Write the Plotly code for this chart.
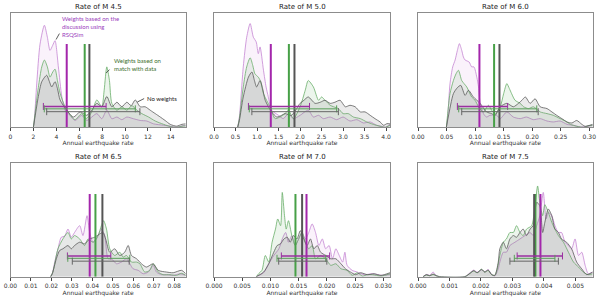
import plotly.graph_objects as go

W, H = 600, 298

TITLES = ["Rate of M 4.5", "Rate of M 5.0", "Rate of M 6.0",
          "Rate of M 6.5", "Rate of M 7.0", "Rate of M 7.5"]
X_TITLE = "Annual earthquake rate"
X_RANGES = [[0, 15.3], [0, 4.09], [0, 0.306], [0, 0.0856], [0, 0.0312], [0, 0.00555]]
X_DTICK = [2, 0.5, 0.05, 0.01, 0.005, 0.001]
X_FMT = [".0f", ".1f", ".2f", ".2f", ".3f", ".3f"]

# ---------------- M 4.5 ----------------
M45_PURPLE_X = [2.0, 2.08, 2.29, 2.58, 2.96, 3.22, 3.45, 3.69, 3.89, 4.18, 4.48, 4.77, 5.2, 5.64, 6.22, 6.66, 7.54, 7.97, 8.41, 8.85, 9.29, 9.72, 10.16, 10.74, 11.33, 11.9, 12.5, 13.37, 13.95, 14.5, 15.1, 15.3]
M45_PURPLE_Y = [0, 0.06, 0.38, 0.73, 0.895, 0.79, 0.675, 0.72, 0.76, 0.53, 0.27, 0.15, 0.105, 0.06, 0.105, 0.06, 0.12, 0.075, 0.15, 0.075, 0.09, 0.067, 0.09, 0.075, 0.06, 0.055, 0.03, 0.018, 0.01, 0, 0.015, 0.015]
M45_GREEN_X = [2.0, 2.14, 2.43, 2.73, 2.96, 3.22, 3.45, 3.69, 3.89, 4.1, 4.33, 4.77, 5.35, 5.64, 6.22, 6.6, 7.1, 7.54, 7.97, 8.18, 8.41, 8.64, 8.85, 9.29, 9.72, 10.16, 10.6, 11.04, 11.47, 12.06, 12.64, 13.37, 14.1, 14.5, 15.1, 15.3]
M45_GREEN_Y = [0, 0.12, 0.35, 0.53, 0.59, 0.53, 0.44, 0.485, 0.51, 0.41, 0.30, 0.18, 0.09, 0.067, 0.12, 0.076, 0.135, 0.24, 0.18, 0.325, 0.53, 0.41, 0.21, 0.15, 0.18, 0.15, 0.19, 0.15, 0.12, 0.09, 0.055, 0.026, 0.003, 0, 0.012, 0.012]
M45_GRAY_X = [2.0, 2.14, 2.43, 2.73, 3.16, 3.4, 3.6, 3.89, 4.1, 4.33, 4.91, 5.5, 6.08, 6.66, 7.1, 7.54, 7.97, 8.41, 8.85, 9.29, 9.72, 10.16, 10.54, 10.89, 11.33, 11.76, 12.2, 12.64, 13.08, 13.5, 13.95, 14.5, 14.97, 15.3]
M45_GRAY_Y = [0, 0.09, 0.27, 0.40, 0.456, 0.40, 0.354, 0.40, 0.34, 0.24, 0.15, 0.09, 0.135, 0.105, 0.15, 0.21, 0.18, 0.27, 0.18, 0.22, 0.18, 0.22, 0.19, 0.24, 0.18, 0.18, 0.15, 0.12, 0.09, 0.06, 0.026, 0.01, 0.026, 0.03]
M45_MEANS = [4.91, 6.48, 6.89]            # purple, green, gray
M45_RANGES = [[2.87, 8.35], [2.95, 10.9], [3.16, 11.3]]

# ---------------- M 5.0 ----------------
M50_PURPLE_X = [0.55, 0.59, 0.68, 0.76, 0.84, 0.915, 0.98, 1.03, 1.07, 1.15, 1.21, 1.26, 1.34, 1.5, 1.61, 1.73, 1.845, 2.0, 2.19, 2.31, 2.43, 2.54, 2.7, 2.85, 3.0, 3.16, 3.32, 3.47, 3.63, 3.78, 3.9, 3.98, 4.09]
M50_PURPLE_Y = [0, 0.09, 0.53, 0.79, 0.91, 0.79, 0.75, 0.646, 0.705, 0.50, 0.354, 0.27, 0.15, 0.105, 0.076, 0.12, 0.076, 0.105, 0.15, 0.09, 0.105, 0.076, 0.09, 0.067, 0.09, 0.055, 0.067, 0.038, 0.047, 0.018, 0.009, 0, 0.026]
M50_GREEN_X = [0.55, 0.59, 0.68, 0.76, 0.84, 0.9, 0.95, 1.03, 1.085, 1.15, 1.3, 1.42, 1.53, 1.65, 1.73, 1.845, 2.0, 2.12, 2.19, 2.31, 2.43, 2.5, 2.58, 2.7, 2.78, 2.89, 3.0, 3.12, 3.24, 3.4, 3.55, 3.7, 3.86, 3.98, 4.09]
M50_GREEN_Y = [0, 0.076, 0.354, 0.53, 0.61, 0.544, 0.47, 0.44, 0.40, 0.295, 0.18, 0.076, 0.09, 0.12, 0.15, 0.076, 0.18, 0.325, 0.41, 0.354, 0.237, 0.266, 0.237, 0.193, 0.18, 0.164, 0.12, 0.12, 0.09, 0.076, 0.047, 0.026, 0.009, 0, 0.018]
M50_GRAY_X = [0.55, 0.59, 0.68, 0.8, 0.88, 0.94, 0.99, 1.07, 1.13, 1.19, 1.34, 1.46, 1.57, 1.65, 1.8, 1.92, 2.0, 2.09, 2.19, 2.35, 2.47, 2.58, 2.7, 2.81, 2.93, 3.05, 3.16, 3.28, 3.4, 3.51, 3.63, 3.74, 3.86, 3.94, 4.02, 4.09]
M50_GRAY_Y = [0, 0.06, 0.266, 0.44, 0.485, 0.41, 0.354, 0.41, 0.34, 0.237, 0.135, 0.09, 0.105, 0.12, 0.105, 0.164, 0.21, 0.237, 0.266, 0.21, 0.22, 0.237, 0.21, 0.22, 0.237, 0.18, 0.193, 0.18, 0.135, 0.135, 0.105, 0.076, 0.047, 0.018, 0.032, 0.03]
M50_MEANS = [1.32, 1.74, 1.87]
M50_RANGES = [[0.80, 2.22], [0.82, 2.85], [0.88, 2.89]]

# ---------------- M 6.0 ----------------
M60_PURPLE_X = [0.0497, 0.052, 0.056, 0.0608, 0.065, 0.069, 0.0725, 0.0766, 0.0795, 0.0825, 0.0895, 0.094, 0.098, 0.103, 0.106, 0.109, 0.1146, 0.12, 0.126, 0.138, 0.144, 0.1556, 0.167, 0.179, 0.19, 0.202, 0.214, 0.226, 0.237, 0.249, 0.261, 0.2725, 0.284, 0.296, 0.306]
M60_PURPLE_Y = [0, 0.09, 0.38, 0.53, 0.59, 0.675, 0.734, 0.675, 0.617, 0.59, 0.573, 0.53, 0.53, 0.44, 0.354, 0.21, 0.12, 0.09, 0.105, 0.105, 0.076, 0.135, 0.09, 0.076, 0.09, 0.067, 0.076, 0.055, 0.047, 0.055, 0.026, 0.018, 0.003, 0.009, 0.018]
M60_GREEN_X = [0.0497, 0.052, 0.056, 0.062, 0.0667, 0.0708, 0.0766, 0.0807, 0.0854, 0.094, 0.1, 0.106, 0.1146, 0.1234, 0.129, 0.135, 0.144, 0.15, 0.1556, 0.16, 0.164, 0.17, 0.179, 0.185, 0.1936, 0.202, 0.214, 0.226, 0.237, 0.249, 0.258, 0.267, 0.278, 0.29, 0.299, 0.306]
M60_GREEN_Y = [0, 0.12, 0.295, 0.41, 0.47, 0.50, 0.41, 0.383, 0.354, 0.266, 0.237, 0.18, 0.135, 0.193, 0.15, 0.12, 0.18, 0.295, 0.383, 0.34, 0.295, 0.237, 0.21, 0.18, 0.164, 0.18, 0.135, 0.12, 0.105, 0.076, 0.055, 0.026, 0.009, 0, 0.015, 0.018]
M60_GRAY_X = [0.0497, 0.053, 0.062, 0.069, 0.0749, 0.0825, 0.0883, 0.097, 0.1088, 0.12, 0.129, 0.135, 0.144, 0.1556, 0.167, 0.176, 0.182, 0.188, 0.1965, 0.205, 0.214, 0.226, 0.2345, 0.243, 0.252, 0.261, 0.2696, 0.278, 0.287, 0.293, 0.306]
M60_GRAY_Y = [0, 0.09, 0.295, 0.348, 0.368, 0.28, 0.325, 0.266, 0.21, 0.135, 0.12, 0.105, 0.18, 0.21, 0.18, 0.21, 0.237, 0.266, 0.21, 0.25, 0.18, 0.164, 0.135, 0.105, 0.076, 0.047, 0.038, 0.06, 0.026, 0.009, 0.026]
M60_MEANS = [0.1076, 0.1333, 0.1427]
M60_RANGES = [[0.069, 0.157], [0.0713, 0.208], [0.0766, 0.2105]]

# ---------------- M 6.5 ----------------
M65_PURPLE_X = [0.0196, 0.0204, 0.0216, 0.0232, 0.0248, 0.0264, 0.0281, 0.0297, 0.0313, 0.0338, 0.0354, 0.0374, 0.0387, 0.0403, 0.042, 0.0444, 0.046, 0.0477, 0.0493, 0.0518, 0.0542, 0.0567, 0.0583, 0.0599, 0.0624, 0.0648, 0.0673, 0.0697, 0.0713, 0.0738, 0.0762, 0.0795, 0.0828, 0.0856]
M65_PURPLE_Y = [0, 0.026, 0.129, 0.246, 0.348, 0.357, 0.42, 0.348, 0.39, 0.45, 0.363, 0.538, 0.39, 0.304, 0.333, 0.42, 0.363, 0.158, 0.158, 0.114, 0.129, 0.158, 0.114, 0.07, 0.056, 0.026, 0.041, 0.10, 0.041, 0.018, 0.018, 0.012, 0.026, 0.012]
M65_GREEN_X = [0.0196, 0.0207, 0.0232, 0.0256, 0.0281, 0.0297, 0.0313, 0.0338, 0.0362, 0.0379, 0.0403, 0.0428, 0.0444, 0.0455, 0.0469, 0.0485, 0.0509, 0.0534, 0.055, 0.0567, 0.0591, 0.0616, 0.0632, 0.0656, 0.068, 0.0697, 0.0722, 0.0746, 0.0779, 0.0811, 0.0836, 0.0856]
M65_GREEN_Y = [0, 0.041, 0.246, 0.333, 0.39, 0.333, 0.363, 0.333, 0.275, 0.333, 0.304, 0.363, 0.45, 0.494, 0.42, 0.246, 0.187, 0.216, 0.173, 0.187, 0.129, 0.129, 0.114, 0.041, 0.056, 0.114, 0.041, 0.018, 0.018, 0.012, 0.03, 0.012]
M65_GRAY_X = [0.0196, 0.0204, 0.0224, 0.024, 0.0256, 0.0281, 0.0297, 0.0313, 0.0338, 0.0362, 0.0387, 0.0411, 0.0436, 0.0452, 0.0465, 0.0485, 0.0509, 0.0534, 0.0558, 0.0575, 0.0591, 0.0616, 0.064, 0.0664, 0.0697, 0.0722, 0.0762, 0.0795, 0.0836, 0.0856]
M65_GRAY_Y = [0, 0.026, 0.158, 0.231, 0.246, 0.275, 0.246, 0.275, 0.304, 0.29, 0.333, 0.348, 0.377, 0.39, 0.333, 0.216, 0.246, 0.187, 0.216, 0.275, 0.187, 0.158, 0.114, 0.085, 0.114, 0.056, 0.041, 0.035, 0.056, 0.026]
M65_MEANS = [0.0387, 0.0415, 0.0449]
M65_RANGES = [[0.0278, 0.049], [0.028, 0.0583], [0.0302, 0.058]]

# ---------------- M 7.0 ----------------
M70_PURPLE_X = [0.0075, 0.0088, 0.0097, 0.0106, 0.0115, 0.0121, 0.0127, 0.0132, 0.0138, 0.0144, 0.015, 0.0156, 0.0162, 0.0168, 0.0174, 0.018, 0.0186, 0.0192, 0.0198, 0.0204, 0.021, 0.0216, 0.0222, 0.0228, 0.0232, 0.0236, 0.0245, 0.0254, 0.0266, 0.0281, 0.0296, 0.0312]
M70_PURPLE_Y = [0, 0.035, 0.114, 0.187, 0.246, 0.333, 0.39, 0.304, 0.363, 0.275, 0.333, 0.39, 0.333, 0.39, 0.465, 0.39, 0.275, 0.333, 0.246, 0.275, 0.158, 0.246, 0.187, 0.129, 0.216, 0.10, 0.056, 0.041, 0.018, 0.026, 0.012, 0.018]
M70_GREEN_X = [0.0075, 0.0079, 0.0085, 0.0091, 0.0097, 0.0103, 0.0109, 0.0113, 0.0118, 0.0121, 0.0125, 0.0128, 0.0132, 0.0138, 0.0144, 0.015, 0.0156, 0.0162, 0.0168, 0.0174, 0.018, 0.0189, 0.0198, 0.0207, 0.0216, 0.0225, 0.0236, 0.0245, 0.0254, 0.0263, 0.0272, 0.0281, 0.0296, 0.0312]
M70_GREEN_Y = [0, 0.026, 0.056, 0.187, 0.129, 0.304, 0.42, 0.509, 0.45, 0.743, 0.538, 0.42, 0.494, 0.363, 0.275, 0.333, 0.39, 0.304, 0.246, 0.275, 0.158, 0.187, 0.158, 0.10, 0.114, 0.07, 0.056, 0.012, 0.035, 0.006, 0.018, 0.018, 0.006, 0.026]
M70_GRAY_X = [0.0075, 0.0088, 0.0097, 0.0106, 0.0112, 0.0118, 0.0124, 0.013, 0.0135, 0.0141, 0.0147, 0.0153, 0.0159, 0.0165, 0.0171, 0.0177, 0.0183, 0.0189, 0.0198, 0.0207, 0.0216, 0.0225, 0.0233, 0.0242, 0.0251, 0.026, 0.0272, 0.0284, 0.0296, 0.0312]
M70_GRAY_Y = [0, 0.041, 0.114, 0.216, 0.275, 0.29, 0.333, 0.348, 0.304, 0.363, 0.333, 0.406, 0.333, 0.275, 0.333, 0.246, 0.275, 0.216, 0.187, 0.158, 0.158, 0.114, 0.07, 0.041, 0.018, 0.035, 0.018, 0.026, 0.012, 0.035]
M70_MEANS = [0.0164, 0.01444, 0.01562]
M70_RANGES = [[0.01194, 0.0205], [0.01117, 0.0198], [0.01147, 0.0200]]

# ---------------- M 7.5 ----------------
M75_PURPLE_X = [0.00016, 0.00027, 0.00037, 0.00048, 0.00058, 0.00069, 0.00149, 0.00165, 0.00177, 0.00188, 0.00202, 0.00212, 0.00223, 0.00234, 0.00244, 0.00255, 0.0026, 0.00271, 0.00281, 0.00292, 0.00308, 0.00324, 0.0034, 0.00356, 0.00366, 0.00377, 0.00387, 0.00398, 0.00407, 0.00414, 0.00425, 0.00435, 0.00446, 0.00456, 0.00467, 0.00478, 0.00488, 0.00499, 0.0051, 0.0052, 0.00531, 0.00541, 0.00555]
M75_PURPLE_Y = [0, 0.02, 0.012, 0.041, 0.009, 0, 0, 0.035, 0.058, 0.04, 0.06, 0.045, 0.062, 0.02, 0.006, 0.07, 0.129, 0.216, 0.216, 0.275, 0.304, 0.333, 0.363, 0.39, 0.363, 0.45, 0.538, 0.743, 0.509, 0.567, 0.538, 0.45, 0.39, 0.39, 0.304, 0.275, 0.246, 0.333, 0.187, 0.216, 0.10, 0.026, 0.041]
M75_GREEN_X = [0.00016, 0.00027, 0.00037, 0.00048, 0.00058, 0.00069, 0.00149, 0.00165, 0.00177, 0.00188, 0.00202, 0.00212, 0.00223, 0.00234, 0.00244, 0.00252, 0.0026, 0.00271, 0.00281, 0.00292, 0.00303, 0.00313, 0.00324, 0.00334, 0.00345, 0.00361, 0.00372, 0.0038, 0.00387, 0.00396, 0.00403, 0.00414, 0.00425, 0.00435, 0.00446, 0.00462, 0.00478, 0.00494, 0.0051, 0.00525, 0.00541, 0.00555]
M75_GREEN_Y = [0, 0.015, 0.008, 0.02, 0.008, 0, 0, 0.03, 0.05, 0.035, 0.066, 0.04, 0.055, 0.018, 0.012, 0.07, 0.187, 0.304, 0.333, 0.39, 0.39, 0.45, 0.39, 0.363, 0.42, 0.45, 0.626, 0.80, 0.655, 0.538, 0.635, 0.567, 0.48, 0.42, 0.363, 0.304, 0.216, 0.129, 0.085, 0.041, 0.018, 0.026]
M75_GRAY_X = [0.00016, 0.00027, 0.00037, 0.00048, 0.00058, 0.00069, 0.00149, 0.00165, 0.00177, 0.00188, 0.00202, 0.00212, 0.00223, 0.00234, 0.00244, 0.00255, 0.0026, 0.00271, 0.00281, 0.00292, 0.00303, 0.00313, 0.00324, 0.00334, 0.00345, 0.00356, 0.00366, 0.00377, 0.00387, 0.00396, 0.00403, 0.00414, 0.00425, 0.00435, 0.00446, 0.00456, 0.00472, 0.00488, 0.00504, 0.0052, 0.00536, 0.00555]
M75_GRAY_Y = [0, 0.018, 0.009, 0.023, 0.009, 0, 0, 0.029, 0.053, 0.035, 0.064, 0.041, 0.058, 0.018, 0.012, 0.129, 0.246, 0.304, 0.246, 0.333, 0.363, 0.348, 0.39, 0.42, 0.363, 0.42, 0.45, 0.655, 0.626, 0.39, 0.48, 0.596, 0.538, 0.42, 0.39, 0.333, 0.304, 0.246, 0.129, 0.07, 0.018, 0.041]
M75_MEANS = [0.00389, 0.00373, 0.00369]
M75_RANGES = [[0.00315, 0.00459], [0.00306, 0.00435], [0.00292, 0.00446]]

SERIES = ["purple", "green", "gray"]
LINE_COLORS = {"purple": "#c586d3", "green": "#6aae6a", "gray": "#5c5c5c"}
FILL_COLORS = {"purple": "rgba(190,90,200,0.08)", "green": "rgba(40,140,40,0.09)",
               "gray": "rgba(130,130,130,0.17)"}
MEAN_COLORS = {"purple": "#a326ab", "green": "#47a047", "gray": "#555555"}
BAR_COLORS = {"purple": "#9a2fa0", "green": "#5a9f5a", "gray": "#666666"}
BAR_LEVELS = {"purple": 0.183, "green": 0.162, "gray": 0.137}
MEAN_TOP = 0.73

PANELS = [
    (M45_PURPLE_X, M45_PURPLE_Y, M45_GREEN_X, M45_GREEN_Y, M45_GRAY_X, M45_GRAY_Y, M45_MEANS, M45_RANGES),
    (M50_PURPLE_X, M50_PURPLE_Y, M50_GREEN_X, M50_GREEN_Y, M50_GRAY_X, M50_GRAY_Y, M50_MEANS, M50_RANGES),
    (M60_PURPLE_X, M60_PURPLE_Y, M60_GREEN_X, M60_GREEN_Y, M60_GRAY_X, M60_GRAY_Y, M60_MEANS, M60_RANGES),
    (M65_PURPLE_X, M65_PURPLE_Y, M65_GREEN_X, M65_GREEN_Y, M65_GRAY_X, M65_GRAY_Y, M65_MEANS, M65_RANGES),
    (M70_PURPLE_X, M70_PURPLE_Y, M70_GREEN_X, M70_GREEN_Y, M70_GRAY_X, M70_GRAY_Y, M70_MEANS, M70_RANGES),
    (M75_PURPLE_X, M75_PURPLE_Y, M75_GREEN_X, M75_GREEN_Y, M75_GRAY_X, M75_GRAY_Y, M75_MEANS, M75_RANGES),
]

# pixel layout of the axes boxes
COL_PX = [(10.5, 185.7), (214, 390), (418, 592.7)]
ROW_PX = [(13.3, 127.3), (163.3, 276.7)]

fig = go.Figure()
layout = dict(width=W, height=H, margin=dict(l=0, r=0, t=0, b=0, autoexpand=False),
              paper_bgcolor="white", plot_bgcolor="white", showlegend=False,
              font=dict(family="DejaVu Sans", color="#222"))
annotations = []
shapes = []

for i, p in enumerate(PANELS):
    row, col = divmod(i, 3)
    sfx = "" if i == 0 else str(i + 1)
    xa, ya = "x" + sfx, "y" + sfx
    data = {"purple": (p[0], p[1]), "green": (p[2], p[3]), "gray": (p[4], p[5])}
    means = dict(zip(SERIES, p[6]))
    rngs = dict(zip(SERIES, p[7]))
    for s in SERIES:
        fig.add_trace(go.Scatter(x=data[s][0], y=data[s][1], xaxis=xa, yaxis=ya,
                                 mode="lines", fill="tozeroy", fillcolor=FILL_COLORS[s],
                                 line=dict(color=LINE_COLORS[s], width=0.8,
                                           shape="spline", smoothing=0.7),
                                 hoverinfo="skip"))
    for s in SERIES:
        fig.add_trace(go.Scatter(x=[means[s], means[s]], y=[0, MEAN_TOP], xaxis=xa, yaxis=ya,
                                 mode="lines", line=dict(color=MEAN_COLORS[s], width=2),
                                 hoverinfo="skip"))
    for s in SERIES:
        lo, hi = rngs[s]
        fig.add_trace(go.Scatter(x=[lo, hi], y=[BAR_LEVELS[s]] * 2, xaxis=xa, yaxis=ya,
                                 mode="lines+markers",
                                 line=dict(color=BAR_COLORS[s], width=1.6 if s == "purple" else 1),
                                 marker=dict(symbol="line-ns", size=5,
                                             line=dict(color=BAR_COLORS[s], width=1)),
                                 hoverinfo="skip"))
    x0, x1 = COL_PX[col]
    y0, y1 = ROW_PX[row]
    xd = [x0 / W, x1 / W]
    yd = [1 - y1 / H, 1 - y0 / H]
    layout["xaxis" + sfx] = dict(domain=xd, anchor=ya, range=X_RANGES[i], dtick=X_DTICK[i],
                                 tick0=0, tickformat=X_FMT[i], showgrid=False, zeroline=False,
                                 automargin=False,
                                 showline=True, mirror=True, linecolor="#8c8c8c", linewidth=1,
                                 ticks="outside", ticklen=3, tickwidth=0.8, tickcolor="#444",
                                 tickfont=dict(size=6, color="#333"),
                                 title=dict(text=X_TITLE, font=dict(size=6, color="#333"),
                                            standoff=1))
    layout["yaxis" + sfx] = dict(domain=yd, anchor=xa, range=[0, 1], showgrid=False,
                                 automargin=False,
                                 zeroline=False, showticklabels=False, ticks="",
                                 showline=True, mirror=True, linecolor="#8c8c8c", linewidth=1)
    annotations.append(dict(text=TITLES[i], xref="paper", yref="paper",
                            x=(xd[0] + xd[1]) / 2, y=yd[1], xanchor="center", yanchor="bottom",
                            yshift=0, showarrow=False, font=dict(size=7, color="#222")))

# callouts in first panel
ANN_FONT = "Lato"
annotations += [
    dict(text="Weights based on the<br>discussion using<br>RSQSim", xref="x", yref="y",
         x=4.3, y=1.0, xanchor="left", yanchor="top", align="left", showarrow=False,
         font=dict(family=ANN_FONT, size=6, color="#9b40bd")),
    dict(text="Weights based on<br>match with data", xref="x", yref="y",
         x=8.85, y=0.63, xanchor="left", yanchor="top", align="left", showarrow=False,
         font=dict(family=ANN_FONT, size=6, color="#3d6e2e")),
    dict(text="No weights", xref="x", yref="y",
         x=11.75, y=0.255, xanchor="left", yanchor="middle", align="left", showarrow=False,
         font=dict(family=ANN_FONT, size=6, color="#222")),
]
for (ax0, ay0, ax1, ay1) in [(4.27, 0.822, 3.98, 0.77), (8.64, 0.506, 8.35, 0.476),
                             (11.67, 0.252, 11.08, 0.222)]:
    shapes.append(dict(type="line", xref="x", yref="y", x0=ax0, y0=ay0, x1=ax1, y1=ay1,
                       line=dict(color="#333", width=0.8)))

layout["annotations"] = annotations
layout["shapes"] = shapes
fig.update_layout(**layout)
fig.write_html("out.html", config={"displayModeBar": False},
               post_script="document.body.style.margin='0px';document.body.style.overflow='hidden';")
